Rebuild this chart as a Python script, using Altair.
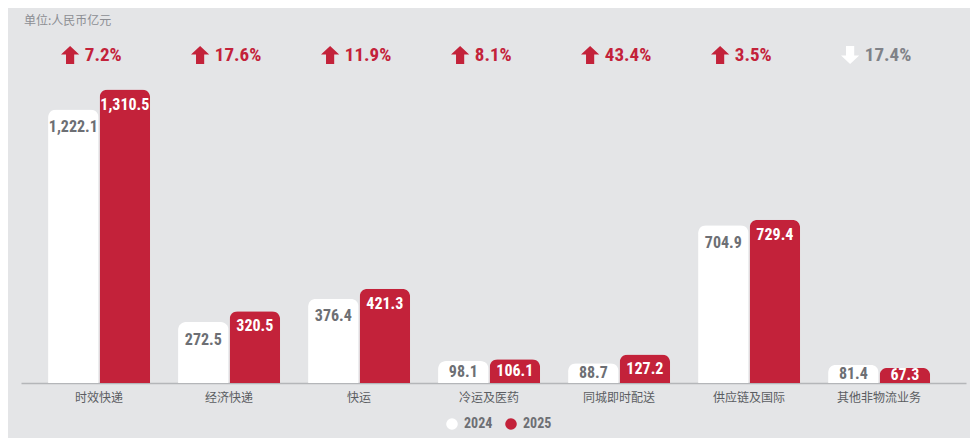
import altair as alt
import pandas as pd

categories = ["时效快递", "经济快递", "快运", "冷运及医药", "同城即时配送", "供应链及国际", "其他非物流业务"]
values_2024 = [1222.1, 272.5, 376.4, 98.1, 88.7, 704.9, 81.4]
values_2025 = [1310.5, 320.5, 421.3, 106.1, 127.2, 729.4, 67.3]
pct_labels = ["7.2%", "17.6%", "11.9%", "8.1%", "43.4%", "3.5%", "17.4%"]
directions = ["up", "up", "up", "up", "up", "up", "down"]
years = ["2024", "2025"]

RED = "#c3223a"
GREY_TXT = "#6d6f74"
BG = "#e4e5e7"
NUM_FONT = "Roboto Condensed, DejaVu Sans Condensed, Liberation Sans Narrow, Arial Narrow, Roboto"
CJK_FONT = "Noto Sans CJK SC"

rows = []
for c, a, b in zip(categories, values_2024, values_2025):
    rows.append({"cat": c, "year": "2024", "value": a, "label": f"{a:,.1f}"})
    rows.append({"cat": c, "year": "2025", "value": b, "label": f"{b:,.1f}"})
bars_df = pd.DataFrame(rows)
chg_df = pd.DataFrame({"cat": categories, "pct": pct_labels, "dir": directions})
unit_df = pd.DataFrame({"t": ["单位:人民币亿元"]})

xscale = alt.Scale(domain=categories, paddingInner=0.215, paddingOuter=0.242, align=0.43)
yscale = alt.Scale(domain=[0, 1675], nice=False, zero=True)

x_enc = alt.X("cat:N", sort=categories, scale=xscale,
              axis=alt.Axis(title=None, labelAngle=0, ticks=False, domainColor="#b4b6b9",
                            domainWidth=1.5, labelColor="#5b5d62", labelFontSize=12,
                            labelFont=CJK_FONT, labelPadding=9))
xoff = alt.XOffset("year:N", scale=alt.Scale(domain=years, paddingInner=0.02))

base = alt.Chart(bars_df)

bars = base.mark_bar(cornerRadiusTopLeft=8, cornerRadiusTopRight=8).encode(
    x=x_enc,
    xOffset=xoff,
    y=alt.Y("value:Q", scale=yscale, axis=None),
    color=alt.Color("year:N", scale=alt.Scale(domain=years, range=["#ffffff", RED]),
                    legend=alt.Legend(title=None, orient="none", direction="horizontal",
                                      legendX=424, legendY=409, symbolType="circle",
                                      symbolSize=135, symbolStrokeWidth=0,
                                      labelFont=NUM_FONT, labelFontSize=14,
                                      labelFontWeight="bold", labelColor=GREY_TXT,
                                      labelOffset=5, columnPadding=11)),
)

# label sits near the bar top, or in the middle of short bars
labels = base.transform_calculate(
    ly="max(datum.value / 2, datum.value - (datum.year == '2024' ? 79 : 67))"
).mark_text(font=NUM_FONT, fontSize=16, fontWeight="bold",
            baseline="middle", clip=True).encode(
    x=alt.X("cat:N", sort=categories, scale=xscale),
    xOffset=xoff,
    y=alt.Y("ly:Q", scale=yscale),
    text="label:N",
    color=alt.condition("datum.year == '2024'", alt.value(GREY_TXT), alt.value("#ffffff")),
)

up_path = "M0,-1L1,-0.05L0.45,-0.05L0.45,1L-0.45,1L-0.45,-0.05L-1,-0.05Z"
down_path = "M0,1L1,0.05L0.45,0.05L0.45,-1L-0.45,-1L-0.45,0.05L-1,0.05Z"

arrows = alt.Chart(chg_df).mark_point(filled=True, size=330, strokeWidth=0, opacity=1).encode(
    x=alt.X("cat:N", sort=categories, scale=xscale, bandPosition=0.216),
    y=alt.value(47),
    shape=alt.Shape("dir:N", scale=alt.Scale(domain=["up", "down"], range=[up_path, down_path]),
                    legend=None),
    color=alt.condition("datum.dir == 'up'", alt.value(RED), alt.value("#ffffff")),
)

pcts = alt.Chart(chg_df).mark_text(font=NUM_FONT, fontSize=19, fontWeight="bold",
                                   align="left", baseline="middle").encode(
    x=alt.X("cat:N", sort=categories, scale=xscale, bandPosition=0.36),
    y=alt.value(47),
    text="pct:N",
    color=alt.condition("datum.dir == 'up'", alt.value(RED), alt.value("#808288")),
)

unit = alt.Chart(unit_df).mark_text(font=CJK_FONT, fontSize=12, color="#8c8e93",
                                    align="left", baseline="middle").encode(
    x=alt.value(3), y=alt.value(13), text="t:N")

chart = alt.layer(bars, labels, arrows, pcts, unit).properties(
    width=945, height=375,
    padding={"left": 13, "top": 0, "right": 4, "bottom": 55},
    autosize=alt.AutoSizeParams(type="none"),
    background=BG,
).configure_view(stroke=None)

chart.save("out.html", embed_options={"renderer": "svg", "actions": False})
